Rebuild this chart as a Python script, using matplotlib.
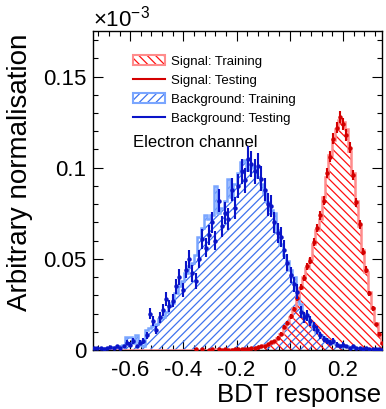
import numpy as np
import matplotlib
matplotlib.use("Agg")
import matplotlib.pyplot as plt
from matplotlib.patches import Patch
from matplotlib.lines import Line2D
from matplotlib.legend_handler import HandlerTuple
from matplotlib.ticker import MultipleLocator, FuncFormatter

plt.rcParams['font.family'] = ['Liberation Sans', 'DejaVu Sans']
plt.rcParams['mathtext.default'] = 'regular'
plt.rcParams['axes.unicode_minus'] = False
plt.rcParams['hatch.linewidth'] = 0.9

# BDT binning (89 bins)
bin_lo, bin_hi, n_bins = -0.742, 0.355, 89

# values in units of 1e-3
bkg_train = [
    0.001,
    0.001, 0.0008, 0.001, 0.0005, 0.001, 0.0015, 0.001, 0.002,
    0.003, 0.007, 0.007, 0.004, 0.008, 0.003, 0.002,
    0.011, 0.012, 0.013, 0.014, 0.017,
    0.018, 0.021, 0.024, 0.026, 0.031, 0.035, 0.038, 0.042, 0.046, 0.048,
    0.052, 0.062, 0.067, 0.074, 0.072, 0.074, 0.090, 0.075, 0.078, 0.082,
    0.094, 0.084, 0.091, 0.097, 0.103, 0.104, 0.099, 0.101, 0.100, 0.095,
    0.091, 0.086, 0.081, 0.077, 0.075, 0.066, 0.058, 0.052, 0.049, 0.044,
    0.040, 0.030, 0.025, 0.020, 0.0175, 0.014, 0.012, 0.010, 0.0085, 0.007,
    0.006, 0.005, 0.004, 0.0035, 0.003, 0.002, 0.002, 0.0015, 0.001, 0.001,
    0.001, 0.0008, 0.0005, 0.0005, 0.0003, 0.0003, 0.0002, 0.0001,
]
bkg_test = [
    0.001,
    0.001, 0.001, 0.0005, 0.001, 0.0015, 0.001, 0.002, 0.001,
    0.002, 0.004, 0.003, 0.005, 0.002, 0.004, 0.005,
    0.008, 0.020, 0.016, 0.011, 0.018,
    0.022, 0.028, 0.024, 0.027, 0.035, 0.040, 0.033, 0.044, 0.050, 0.042,
    0.038, 0.050, 0.061, 0.056, 0.063, 0.070, 0.060, 0.082, 0.068, 0.075,
    0.072, 0.088, 0.078, 0.090, 0.098, 0.093, 0.105, 0.102, 0.098, 0.101,
    0.094, 0.088, 0.080, 0.079, 0.070, 0.064, 0.062, 0.055, 0.048, 0.041,
    0.036, 0.032, 0.021, 0.018, 0.019, 0.016, 0.013, 0.011, 0.008, 0.006,
    0.005, 0.004, 0.005, 0.003, 0.002, 0.003, 0.002, 0.001, 0.002, 0.001,
    0.001, 0.0005, 0.001, 0.0005, 0.0005, 0.0003, 0.0003, 0.0002,
]
sig_train = [
    0, 0, 0, 0, 0, 0, 0, 0, 0, 0,
    0, 0, 0, 0, 0, 0, 0, 0, 0, 0,
    0, 0, 0, 0, 0, 0, 0, 0, 0, 0,
    0, 0, 0.0002, 0, 0.0002, 0, 0, 0.0003, 0, 0.0002,
    0.0002, 0.0002,
    0.0003, 0.0003, 0.0005, 0.0005, 0.0007, 0.0008, 0.001, 0.0012, 0.0015, 0.002,
    0.0025, 0.003, 0.004, 0.005, 0.0065, 0.009, 0.012, 0.015, 0.018, 0.023,
    0.029, 0.034, 0.040, 0.045, 0.050, 0.058, 0.066, 0.072, 0.084, 0.095,
    0.107, 0.115, 0.121, 0.126, 0.125, 0.121, 0.109, 0.097, 0.082, 0.068,
    0.055, 0.043, 0.032, 0.023, 0.015, 0.009, 0.004,
]
sig_test = [
    0, 0, 0, 0, 0, 0, 0, 0, 0, 0,
    0, 0, 0, 0, 0, 0, 0, 0, 0, 0,
    0, 0, 0, 0, 0, 0, 0, 0, 0, 0,
    0, 0.0003, 0, 0.0004, 0, 0.0002, 0.0003, 0, 0.0004, 0.0002,
    0.0003, 0.0002,
    0.0002, 0.0004, 0.0004, 0.0006, 0.0008, 0.0007, 0.0011, 0.0013, 0.0016, 0.0022,
    0.0024, 0.0032, 0.0042, 0.0048, 0.0068, 0.0088, 0.0125, 0.0148, 0.0185, 0.0225,
    0.0285, 0.0345, 0.0395, 0.046, 0.049, 0.059, 0.067, 0.074, 0.082, 0.097,
    0.106, 0.116, 0.122, 0.128, 0.124, 0.118, 0.111, 0.096, 0.081, 0.069,
    0.054, 0.044, 0.031, 0.023, 0.014, 0.009, 0.004,
]

edges = np.linspace(bin_lo, bin_hi, n_bins + 1)
centers = 0.5 * (edges[:-1] + edges[1:])
bkg_train = np.array(bkg_train)
bkg_test = np.array(bkg_test)
sig_train = np.array(sig_train)
sig_test = np.array(sig_test)

sig_hatch, sig_line, sig_pt = '#ff1010', '#ff8c8c', '#d40000'
bkg_hatch, bkg_line, bkg_pt = '#3f73ee', '#7aa6ff', '#0a14c8'

fig = plt.figure(figsize=(3.86, 4.09), dpi=100)
ax = fig.add_axes([93 / 386, 1 - 350 / 409, 289 / 386, 319 / 409])

# training histograms: hatch + light outline
ax.stairs(bkg_train, edges, fill=True, facecolor='none', edgecolor=bkg_hatch,
          hatch='////', linewidth=0, zorder=2)
ax.stairs(bkg_train, edges, color=bkg_line, linewidth=1.8, zorder=3)
ax.stairs(sig_train, edges, fill=True, facecolor='none', edgecolor=sig_hatch,
          hatch='\\\\\\\\', linewidth=0, zorder=2)
ax.stairs(sig_train, edges, color=sig_line, linewidth=1.8, zorder=3)

# testing points with error bars
m = bkg_test > 0
ax.errorbar(centers[m], bkg_test[m], yerr=0.022 * np.sqrt(bkg_test[m]), fmt='o',
            color=bkg_pt, markersize=2.2, elinewidth=1.5, capsize=0, zorder=5)
m = sig_test > 0
ax.errorbar(centers[m], sig_test[m], yerr=0.009 * np.sqrt(sig_test[m]), fmt='o',
            color=sig_pt, markersize=2.2, elinewidth=1.5, capsize=0, zorder=4)

ax.set_xlim(-0.74, 0.347)
ax.set_ylim(0, 0.175)

ax.xaxis.set_major_locator(MultipleLocator(0.2))
ax.xaxis.set_minor_locator(MultipleLocator(0.04))
ax.yaxis.set_major_locator(MultipleLocator(0.05))
ax.yaxis.set_minor_locator(MultipleLocator(0.01))
ax.xaxis.set_major_formatter(FuncFormatter(lambda v, p: '0' if abs(v) < 1e-9 else f'{v:g}'))
ax.yaxis.set_major_formatter(FuncFormatter(lambda v, p: '0' if abs(v) < 1e-9 else f'{v:g}'))
ax.tick_params(which='both', direction='in', top=True, right=True, labelsize=16)
ax.tick_params(which='major', length=7, width=0.8)
ax.tick_params(which='minor', length=3.5, width=0.8)
ax.tick_params(axis='x', pad=7)
ax.tick_params(axis='y', pad=5)
for s in ax.spines.values():
    s.set_linewidth(1.0)

fig.text(93 / 386, 1 - 27 / 409, r'$\times$10$^{-3}$', fontsize=16,
         ha='left', va='baseline')
fig.text(20 / 386, 1 - 172 / 409, 'Arbitrary normalisation', fontsize=20,
         rotation=90, ha='center', va='center')
fig.text(381 / 386, 1 - 395 / 409, 'BDT response', fontsize=18.5,
         ha='right', va='center')

ax.text(0.138, 0.652, 'Electron channel', transform=ax.transAxes, fontsize=12,
        ha='left', va='center')

handles = [
    (Patch(facecolor='none', edgecolor=sig_hatch, hatch='\\\\\\\\', linewidth=0),
     Patch(facecolor='none', edgecolor=sig_line, linewidth=1.5)),
    Line2D([], [], color=sig_pt, linewidth=1.5),
    (Patch(facecolor='none', edgecolor=bkg_hatch, hatch='////', linewidth=0),
     Patch(facecolor='none', edgecolor=bkg_line, linewidth=1.5)),
    Line2D([], [], color=bkg_pt, linewidth=1.5),
]
labels = ['Signal: Training', 'Signal: Testing', 'Background: Training',
          'Background: Testing']
ax.legend(handles, labels, handler_map={tuple: HandlerTuple(ndivide=1, pad=0)},
          loc='upper left', bbox_to_anchor=(0.138, 0.924), frameon=False,
          fontsize=9.5, handlelength=2.4, handleheight=0.8, handletextpad=0.5,
          labelspacing=0.48, borderpad=0, borderaxespad=0)

fig.savefig('out.png', dpi=100)
